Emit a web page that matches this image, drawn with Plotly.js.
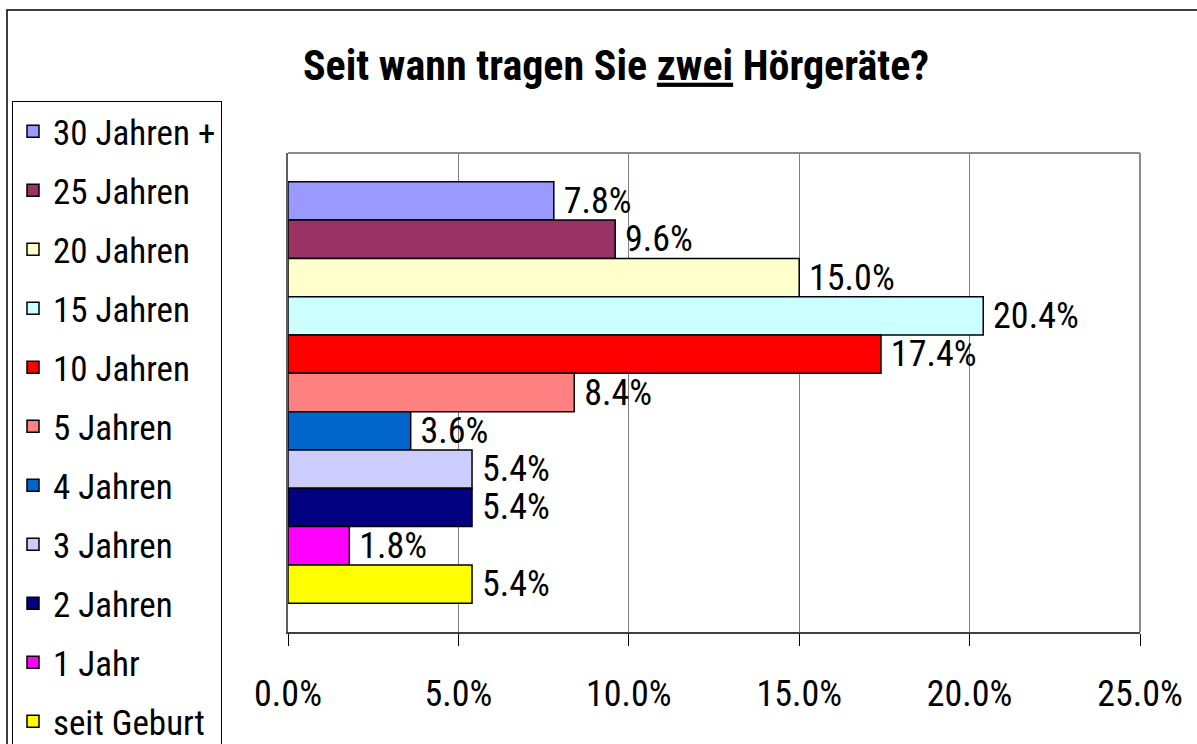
<!DOCTYPE html>
<html>
<head>
<meta charset="utf-8">
<script src="https://cdn.plot.ly/plotly-3.0.1.min.js"></script>
<style>html,body{margin:0;padding:0;background:#fff;}#chart{width:1197px;height:744px;}</style>
</head>
<body>
<div id="chart"></div>
<script>
// Categories (legend order, top to bottom)
const categories = ["30 Jahren +", "25 Jahren", "20 Jahren", "15 Jahren", "10 Jahren", "5 Jahren", "4 Jahren", "3 Jahren", "2 Jahren", "1 Jahr", "seit Geburt"];
// Share of respondents in percent
const values = [7.8, 9.6, 15.0, 20.4, 17.4, 8.4, 3.6, 5.4, 5.4, 1.8, 5.4];
const colors = ["#9999FF", "#993366", "#FFFFCC", "#CCFFFF", "#FF0000", "#FF8080", "#0066CC", "#CCCCFF", "#000080", "#FF00FF", "#FFFF00"];
const tickValues = [0, 5, 10, 15, 20, 25];
const tickLabels = ["0.0%", "5.0%", "10.0%", "15.0%", "20.0%", "25.0%"];

const FONT = '"Roboto Condensed", "Liberation Sans Narrow", "Arial Narrow", "Liberation Sans", Arial, sans-serif';

const W = 1197, H = 744;
const L = 288, R = 57, T = 153, B = 112;
const pw = W - L - R, ph = H - T - B;
const px = v => (v - L) / pw;
const py = v => (H - B - v) / ph;

const traces = categories.map((c, i) => ({
  type: 'bar',
  orientation: 'h',
  name: c,
  legendgroup: 'g' + i,
  x: [values[i]],
  y: ['q'],
  marker: {color: colors[i], line: {color: '#000000', width: 1.5}},
  text: ['\u2009' + values[i].toFixed(1) + '%'],
  textposition: 'outside',
  textfont: {family: FONT, size: 36, color: '#000000'},
  constraintext: 'none',
  cliponaxis: false,
  hoverinfo: 'name+x'
}));

const layout = {
  width: W, height: H,
  margin: {l: L, r: R, t: T, b: B, autoexpand: false},
  paper_bgcolor: '#ffffff',
  plot_bgcolor: '#ffffff',
  font: {family: FONT, size: 35, color: '#000000'},
  title: {
    text: '<b>Seit wann tragen Sie <span style="text-decoration:underline">zwei</span> Hörgeräte?</b>',
    font: {family: FONT, size: 42, color: '#000000'},
    xref: 'container', yref: 'container',
    x: 616 / W, y: 1 - 65 / H, xanchor: 'center', yanchor: 'middle'
  },
  barmode: 'group',
  bargap: 0.12,
  bargroupgap: 0,
  xaxis: {
    range: [0, 25],
    tickvals: tickValues,
    ticktext: tickLabels,
    ticks: 'outside', ticklen: 12, tickcolor: '#000000', tickwidth: 1,
    showgrid: true, gridcolor: '#808080', gridwidth: 1,
    zeroline: false,
    showline: true, linecolor: '#404040', linewidth: 2,
    tickfont: {family: FONT, size: 36, color: '#000000'},
    ticklabelstandoff: 17,
    fixedrange: true
  },
  yaxis: {
    autorange: 'reversed',
    showticklabels: false,
    ticks: '',
    showgrid: false,
    zeroline: false,
    showline: true, linecolor: '#606060', linewidth: 1.5,
    fixedrange: true
  },
  legend: {
    xref: 'container', yref: 'container',
    x: 12 / W, y: 1 - 101 / H, xanchor: 'left', yanchor: 'top',
    bgcolor: '#ffffff', bordercolor: '#000000', borderwidth: 1,
    font: {family: FONT, size: 35, color: '#000000'},
    traceorder: 'grouped',
    tracegroupgap: 10.5,
    maxheight: 2000,
    itemclick: false, itemdoubleclick: false
  },
  shapes: [
    {type: 'rect', xref: 'paper', yref: 'paper', x0: px(7), x1: px(1210), y0: py(760), y1: py(10),
     line: {color: '#000000', width: 1.5}, fillcolor: 'rgba(0,0,0,0)', layer: 'below'},
    {type: 'line', xref: 'paper', yref: 'paper', x0: 0, x1: 1, y0: 1, y1: 1, line: {color: '#8c8c8c', width: 2}},
    {type: 'line', xref: 'paper', yref: 'paper', x0: 1, x1: 1, y0: 0, y1: 1, line: {color: '#8c8c8c', width: 2}}
  ],
  showlegend: true
};

Plotly.newPlot('chart', traces, layout, {displayModeBar: false});
</script>
</body>
</html>
